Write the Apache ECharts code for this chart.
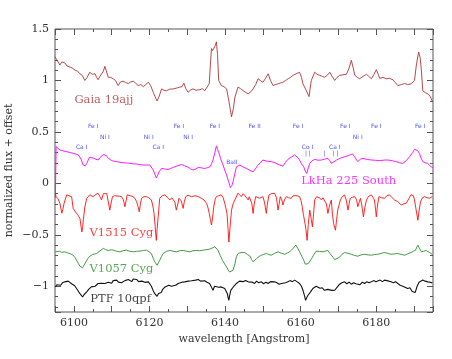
<!DOCTYPE html>
<html><head><meta charset="utf-8">
<script src="https://cdn.jsdelivr.net/npm/echarts@6/dist/echarts.min.js"></script>
<style>html,body{margin:0;padding:0;background:#fff}#c{width:452px;height:359px}</style>
</head><body><div id="c"></div>
<script>
// ---- data (wavelength [A], normalized flux + offset) ----
const gaia = [[6095.0,1.23],[6095.5,1.2],[6096.3,1.15],[6096.8,1.18],[6097.6,1.17],[6098.2,1.14],[6099.0,1.13],[6099.6,1.12],[6100.3,1.10],[6101.0,1.09],[6101.6,1.065],[6102.2,1.05],[6102.9,1.0],[6103.5,1.03],[6104.2,1.08],[6104.8,1.06],[6105.6,1.065],[6106.0,1.03],[6106.4,1.007],[6106.9,1.04],[6107.3,1.04],[6107.8,1.09],[6108.2,1.137],[6108.6,1.12],[6109.1,1.03],[6109.7,1.03],[6110.4,1.017],[6111.0,1.0],[6111.7,0.95],[6112.3,0.985],[6113.0,0.993],[6113.7,0.98],[6114.4,0.97],[6115.0,0.985],[6115.7,0.993],[6116.3,0.975],[6117.0,0.95],[6117.7,0.96],[6118.4,0.94],[6119.0,0.96],[6119.7,0.983],[6120.3,0.95],[6121.0,0.885],[6121.5,0.84],[6122.0,0.80],[6122.5,0.84],[6123.2,0.918],[6123.8,0.905],[6124.5,0.90],[6125.3,0.915],[6126.3,0.918],[6127.1,0.925],[6128.0,0.935],[6128.6,0.94],[6129.1,0.973],[6129.6,0.92],[6130.2,0.885],[6130.8,0.905],[6131.5,0.918],[6132.3,0.905],[6133.3,0.91],[6134.0,0.92],[6134.6,0.9],[6135.1,0.9],[6135.8,0.967],[6136.1,1.15],[6136.4,1.31],[6136.7,1.29],[6137.0,1.28],[6137.4,1.34],[6137.7,1.375],[6138.0,1.25],[6138.3,1.0],[6139.0,0.95],[6139.7,0.94],[6140.4,0.918],[6141.0,0.8],[6141.7,0.647],[6142.2,0.73],[6142.6,0.837],[6143.4,0.935],[6144.1,0.92],[6144.8,0.90],[6145.4,0.885],[6146.1,0.87],[6146.8,0.89],[6147.4,0.918],[6148.1,0.96],[6148.7,1.017],[6149.3,1.0],[6150.0,0.983],[6150.7,1.02],[6151.4,1.065],[6152.0,1.0],[6152.7,0.95],[6153.3,0.96],[6154.0,0.967],[6154.6,0.975],[6155.3,0.983],[6156.0,1.0],[6156.7,1.017],[6157.3,1.03],[6158.0,1.05],[6158.8,1.065],[6159.7,1.08],[6160.2,1.03],[6160.6,0.967],[6161.5,0.90],[6162.2,0.843],[6162.8,1.0],[6163.7,1.08],[6164.3,1.06],[6165.0,1.05],[6165.7,1.04],[6166.3,1.03],[6167.0,1.05],[6167.7,1.08],[6168.3,1.04],[6169.0,1.0],[6169.6,1.03],[6170.3,1.05],[6171.2,1.055],[6172.1,1.06],[6172.8,1.12],[6173.4,1.196],[6173.9,1.12],[6174.3,1.05],[6175.0,1.03],[6175.6,1.017],[6176.5,1.04],[6177.4,1.06],[6178.0,1.04],[6178.7,1.017],[6179.4,1.06],[6180.0,1.105],[6180.5,1.06],[6180.9,1.02],[6181.8,1.03],[6182.6,1.017],[6183.5,1.02],[6184.4,1.007],[6185.0,0.98],[6185.7,0.95],[6186.6,0.96],[6187.5,0.97],[6188.3,0.96],[6189.2,0.967],[6189.7,0.95],[6190.1,1.0],[6190.6,1.15],[6191.2,1.277],[6191.6,1.22],[6191.9,1.11],[6192.3,0.9],[6193.0,0.88],[6193.6,0.87],[6194.2,0.85],[6194.8,0.80]];

const lkha = [[6095.1,-0.14],[6095.3,0.357],[6096.3,0.325],[6097.2,0.315],[6098.1,0.308],[6099.0,0.30],[6099.8,0.292],[6100.5,0.285],[6101.2,0.276],[6101.6,0.26],[6102.0,0.227],[6102.4,0.18],[6102.7,0.161],[6103.0,0.17],[6103.4,0.194],[6104.1,0.253],[6104.6,0.25],[6105.1,0.246],[6105.8,0.235],[6106.4,0.227],[6106.9,0.25],[6107.3,0.266],[6107.8,0.28],[6108.2,0.292],[6108.6,0.27],[6109.1,0.243],[6109.5,0.235],[6110.0,0.221],[6110.6,0.215],[6111.3,0.211],[6112.2,0.205],[6113.0,0.201],[6113.9,0.198],[6114.8,0.194],[6115.7,0.19],[6116.6,0.188],[6117.5,0.182],[6118.3,0.178],[6119.2,0.178],[6120.1,0.178],[6120.6,0.16],[6121.0,0.129],[6121.4,0.09],[6121.8,0.053],[6122.2,0.08],[6122.5,0.111],[6123.2,0.145],[6124.0,0.14],[6124.9,0.135],[6125.6,0.145],[6126.3,0.155],[6127.4,0.17],[6128.5,0.184],[6129.3,0.17],[6130.2,0.158],[6130.9,0.14],[6131.5,0.129],[6132.2,0.14],[6132.9,0.155],[6133.8,0.15],[6134.6,0.145],[6135.3,0.152],[6136.0,0.161],[6136.4,0.19],[6136.8,0.227],[6137.3,0.3],[6137.7,0.364],[6138.0,0.33],[6138.4,0.292],[6138.8,0.24],[6139.3,0.194],[6139.8,0.14],[6140.4,0.08],[6140.9,0.02],[6141.4,-0.041],[6141.8,-0.02],[6142.1,0.014],[6142.6,0.1],[6143.0,0.161],[6143.9,0.178],[6144.7,0.16],[6145.6,0.145],[6146.5,0.128],[6147.4,0.112],[6148.0,0.14],[6148.7,0.178],[6149.3,0.2],[6150.0,0.227],[6150.6,0.22],[6151.3,0.215],[6152.2,0.211],[6152.9,0.205],[6153.5,0.194],[6154.4,0.18],[6155.3,0.168],[6155.9,0.2],[6156.6,0.233],[6157.5,0.255],[6158.4,0.276],[6159.1,0.255],[6159.7,0.227],[6160.2,0.19],[6160.8,0.161],[6161.2,0.12],[6161.6,0.096],[6162.0,0.15],[6162.4,0.194],[6163.0,0.22],[6163.7,0.233],[6164.6,0.225],[6165.5,0.227],[6166.3,0.235],[6167.2,0.243],[6167.7,0.22],[6168.1,0.194],[6168.8,0.21],[6169.5,0.227],[6170.5,0.245],[6171.6,0.259],[6172.6,0.27],[6173.7,0.286],[6174.4,0.25],[6175.1,0.211],[6175.8,0.235],[6176.5,0.243],[6177.6,0.232],[6178.7,0.227],[6179.8,0.224],[6180.9,0.221],[6182.0,0.226],[6183.1,0.227],[6184.2,0.22],[6185.3,0.211],[6186.2,0.2],[6187.0,0.194],[6187.9,0.22],[6188.8,0.259],[6189.6,0.3],[6190.1,0.33],[6190.4,0.341],[6190.9,0.32],[6191.4,0.292],[6191.9,0.24],[6192.3,0.211],[6193.0,0.2],[6193.6,0.194],[6194.5,0.161],[6195.0,0.15]];

const v1515 = [[6095.1,-0.1],[6095.3,-0.129],[6095.8,-0.15],[6096.3,-0.194],[6096.8,-0.29],[6097.1,-0.25],[6097.4,-0.194],[6098.1,-0.112],[6098.7,-0.12],[6099.4,-0.129],[6099.8,-0.243],[6100.2,-0.26],[6100.7,-0.292],[6101.2,-0.315],[6101.6,-0.341],[6101.9,-0.42],[6102.1,-0.472],[6102.3,-0.43],[6102.5,-0.355],[6102.9,-0.227],[6103.4,-0.145],[6104.2,-0.112],[6104.7,-0.13],[6105.1,-0.129],[6105.7,-0.11],[6106.4,-0.096],[6106.9,-0.13],[6107.3,-0.161],[6107.8,-0.1],[6108.2,-0.09],[6108.7,-0.1],[6109.1,-0.096],[6109.5,-0.26],[6109.8,-0.2],[6110.2,-0.129],[6110.8,-0.12],[6111.3,-0.112],[6112.0,-0.125],[6112.6,-0.129],[6113.1,-0.16],[6113.5,-0.227],[6113.8,-0.17],[6114.1,-0.112],[6114.9,-0.12],[6115.7,-0.129],[6116.2,-0.15],[6116.6,-0.178],[6117.0,-0.23],[6117.3,-0.276],[6117.6,-0.2],[6117.9,-0.145],[6118.5,-0.13],[6119.2,-0.129],[6119.8,-0.14],[6120.5,-0.161],[6120.9,-0.22],[6121.2,-0.292],[6121.5,-0.42],[6121.8,-0.554],[6122.0,-0.45],[6122.3,-0.325],[6122.7,-0.145],[6123.4,-0.12],[6124.1,-0.112],[6124.8,-0.14],[6125.4,-0.161],[6125.9,-0.14],[6126.3,-0.129],[6126.7,-0.18],[6127.1,-0.26],[6127.5,-0.2],[6127.8,-0.145],[6128.4,-0.17],[6128.9,-0.243],[6129.2,-0.18],[6129.6,-0.129],[6130.2,-0.115],[6130.7,-0.112],[6131.1,-0.13],[6131.5,-0.145],[6132.0,-0.12],[6132.4,-0.112],[6133.0,-0.13],[6133.7,-0.145],[6134.4,-0.16],[6135.1,-0.194],[6135.5,-0.24],[6135.8,-0.292],[6136.1,-0.35],[6136.4,-0.405],[6136.7,-0.33],[6137.0,-0.227],[6137.4,-0.15],[6137.7,-0.129],[6138.3,-0.12],[6139.0,-0.112],[6139.5,-0.14],[6139.9,-0.194],[6140.2,-0.24],[6140.5,-0.292],[6140.8,-0.45],[6141.0,-0.57],[6141.3,-0.43],[6141.7,-0.26],[6142.1,-0.2],[6142.6,-0.161],[6143.4,-0.096],[6143.8,-0.11],[6144.3,-0.129],[6144.8,-0.1],[6145.2,-0.096],[6145.7,-0.14],[6146.1,-0.161],[6146.4,-0.13],[6146.7,-0.112],[6147.1,-0.2],[6147.4,-0.292],[6147.7,-0.2],[6148.1,-0.129],[6148.6,-0.13],[6149.2,-0.145],[6149.6,-0.135],[6150.0,-0.129],[6150.4,-0.18],[6150.9,-0.292],[6151.2,-0.2],[6151.6,-0.112],[6152.3,-0.1],[6153.1,-0.096],[6153.6,-0.14],[6154.0,-0.26],[6154.3,-0.2],[6154.6,-0.129],[6155.0,-0.16],[6155.3,-0.21],[6155.7,-0.16],[6156.2,-0.129],[6156.8,-0.14],[6157.5,-0.145],[6158.0,-0.12],[6158.4,-0.112],[6159.0,-0.12],[6159.7,-0.129],[6160.1,-0.17],[6160.4,-0.227],[6160.7,-0.3],[6161.0,-0.358],[6161.4,-0.45],[6161.7,-0.554],[6162.0,-0.4],[6162.4,-0.26],[6162.8,-0.35],[6163.1,-0.423],[6163.4,-0.3],[6163.7,-0.161],[6164.2,-0.13],[6164.6,-0.129],[6165.0,-0.14],[6165.5,-0.161],[6165.9,-0.14],[6166.3,-0.129],[6166.8,-0.2],[6167.2,-0.292],[6167.6,-0.22],[6168.1,-0.161],[6168.4,-0.3],[6168.7,-0.39],[6169.2,-0.455],[6169.5,-0.35],[6169.8,-0.26],[6170.5,-0.161],[6171.0,-0.13],[6171.6,-0.112],[6172.1,-0.17],[6172.5,-0.26],[6172.8,-0.2],[6173.1,-0.145],[6173.7,-0.135],[6174.3,-0.129],[6174.8,-0.16],[6175.1,-0.227],[6175.5,-0.18],[6175.8,-0.145],[6176.2,-0.22],[6176.6,-0.325],[6177.0,-0.23],[6177.4,-0.161],[6178.0,-0.125],[6178.7,-0.112],[6179.2,-0.14],[6179.5,-0.161],[6179.8,-0.25],[6180.0,-0.325],[6180.3,-0.22],[6180.7,-0.129],[6181.4,-0.14],[6182.2,-0.145],[6182.8,-0.12],[6183.5,-0.112],[6184.2,-0.14],[6184.8,-0.161],[6185.3,-0.17],[6185.7,-0.178],[6186.2,-0.19],[6186.6,-0.21],[6187.2,-0.2],[6187.9,-0.194],[6188.6,-0.15],[6189.2,-0.11],[6189.5,-0.096],[6189.8,-0.12],[6190.1,-0.161],[6190.5,-0.25],[6191.0,-0.358],[6191.3,-0.27],[6191.7,-0.178],[6192.2,-0.14],[6192.8,-0.129],[6193.5,-0.14],[6194.1,-0.145],[6194.8,-0.129]];

const v1057 = [[6095.1,-0.665],[6095.6,-0.675],[6096.2,-0.66],[6096.8,-0.67],[6097.6,-0.665],[6098.3,-0.675],[6099.0,-0.682],[6099.5,-0.69],[6099.8,-0.698],[6100.3,-0.72],[6100.7,-0.747],[6101.2,-0.78],[6101.6,-0.806],[6102.0,-0.815],[6102.3,-0.819],[6102.7,-0.8],[6103.2,-0.762],[6103.7,-0.73],[6104.2,-0.708],[6105.0,-0.69],[6106.0,-0.682],[6106.9,-0.655],[6107.8,-0.632],[6108.4,-0.645],[6109.1,-0.652],[6109.8,-0.645],[6110.4,-0.649],[6111.3,-0.66],[6112.2,-0.665],[6113.0,-0.655],[6113.9,-0.649],[6114.8,-0.66],[6115.7,-0.665],[6116.6,-0.66],[6117.5,-0.658],[6118.4,-0.652],[6119.2,-0.649],[6119.9,-0.665],[6120.5,-0.682],[6121.0,-0.73],[6121.4,-0.763],[6122.0,-0.796],[6122.4,-0.77],[6122.7,-0.747],[6123.2,-0.71],[6123.6,-0.682],[6124.5,-0.66],[6125.4,-0.652],[6126.3,-0.66],[6127.1,-0.665],[6128.0,-0.655],[6128.9,-0.652],[6129.8,-0.66],[6130.7,-0.665],[6131.5,-0.655],[6132.4,-0.652],[6133.3,-0.655],[6134.2,-0.649],[6135.0,-0.645],[6135.9,-0.639],[6136.6,-0.628],[6137.3,-0.616],[6137.7,-0.63],[6138.1,-0.649],[6138.7,-0.7],[6139.3,-0.747],[6139.9,-0.785],[6140.4,-0.812],[6140.8,-0.84],[6141.2,-0.861],[6141.7,-0.85],[6142.1,-0.845],[6142.6,-0.78],[6143.0,-0.71],[6143.5,-0.68],[6143.9,-0.665],[6144.5,-0.67],[6145.2,-0.672],[6145.9,-0.69],[6146.6,-0.708],[6147.0,-0.74],[6147.4,-0.762],[6147.9,-0.745],[6148.3,-0.732],[6149.0,-0.71],[6149.6,-0.698],[6150.2,-0.69],[6150.9,-0.682],[6151.5,-0.69],[6152.2,-0.698],[6153.1,-0.68],[6154.0,-0.665],[6154.9,-0.68],[6155.8,-0.689],[6156.5,-0.675],[6157.1,-0.665],[6157.6,-0.65],[6158.0,-0.632],[6158.4,-0.614],[6158.7,-0.6],[6159.2,-0.63],[6159.7,-0.665],[6160.3,-0.71],[6160.8,-0.747],[6161.2,-0.785],[6161.5,-0.796],[6162.0,-0.78],[6162.4,-0.762],[6162.9,-0.73],[6163.4,-0.698],[6164.1,-0.658],[6165.0,-0.662],[6165.9,-0.665],[6166.5,-0.658],[6167.2,-0.652],[6167.7,-0.68],[6168.1,-0.698],[6168.6,-0.72],[6169.0,-0.74],[6169.6,-0.73],[6170.3,-0.717],[6170.9,-0.69],[6171.6,-0.672],[6172.5,-0.68],[6173.4,-0.689],[6174.2,-0.7],[6175.1,-0.708],[6176.0,-0.695],[6176.9,-0.689],[6177.8,-0.695],[6178.7,-0.698],[6179.5,-0.692],[6180.4,-0.689],[6181.3,-0.68],[6182.2,-0.672],[6183.0,-0.68],[6183.9,-0.689],[6184.8,-0.685],[6185.7,-0.682],[6186.6,-0.69],[6187.5,-0.698],[6188.3,-0.685],[6189.2,-0.672],[6189.8,-0.66],[6190.4,-0.649],[6190.7,-0.62],[6191.0,-0.6],[6191.4,-0.63],[6191.9,-0.665],[6192.5,-0.66],[6193.2,-0.652],[6193.7,-0.665],[6194.1,-0.672],[6194.8,-0.689]];

const ptf = [[6095.1,-1.006],[6095.5,-0.985],[6096.0,-0.97],[6096.5,-0.99],[6097.0,-0.965],[6097.6,-0.957],[6098.1,-0.975],[6098.5,-0.95],[6099.0,-0.957],[6099.4,-0.975],[6099.8,-0.98],[6100.2,-0.995],[6100.7,-1.022],[6101.1,-1.04],[6101.6,-1.072],[6102.0,-1.09],[6102.3,-1.104],[6102.7,-1.08],[6103.0,-1.09],[6103.4,-1.055],[6103.9,-1.03],[6104.2,-1.04],[6104.6,-1.006],[6105.1,-0.99],[6105.6,-1.0],[6106.0,-0.985],[6106.4,-0.973],[6106.9,-0.99],[6107.3,-0.97],[6107.8,-0.985],[6108.2,-0.973],[6108.7,-0.955],[6109.1,-0.96],[6109.5,-0.95],[6110.0,-0.97],[6110.4,-0.945],[6110.9,-0.955],[6111.3,-0.94],[6111.8,-0.96],[6112.2,-0.95],[6112.6,-0.965],[6113.0,-0.957],[6113.5,-0.945],[6114.0,-0.96],[6114.4,-0.935],[6114.8,-0.94],[6115.3,-0.955],[6115.7,-0.93],[6116.2,-0.945],[6116.6,-0.934],[6117.1,-0.955],[6117.5,-0.94],[6118.0,-0.95],[6118.3,-0.947],[6118.8,-0.962],[6119.2,-0.95],[6119.7,-0.957],[6120.1,-0.975],[6120.5,-1.0],[6121.0,-1.045],[6121.4,-1.072],[6121.7,-1.085],[6122.0,-1.098],[6122.4,-1.07],[6122.7,-1.055],[6123.1,-1.06],[6123.5,-1.03],[6124.1,-1.006],[6124.6,-1.015],[6125.1,-0.99],[6125.8,-1.0],[6126.3,-0.985],[6126.9,-0.99],[6127.6,-0.973],[6128.1,-0.98],[6128.6,-0.96],[6129.3,-0.957],[6129.8,-0.97],[6130.3,-0.95],[6131.1,-0.947],[6131.6,-0.96],[6132.2,-0.94],[6132.9,-0.934],[6133.5,-0.95],[6134.0,-0.94],[6134.6,-0.947],[6135.2,-0.96],[6135.9,-0.973],[6136.4,-1.01],[6136.8,-1.039],[6137.2,-1.0],[6137.7,-0.99],[6138.3,-1.01],[6139.0,-1.006],[6139.5,-1.025],[6139.9,-1.022],[6140.3,-1.05],[6140.6,-1.072],[6140.8,-1.11],[6141.0,-1.137],[6141.2,-1.09],[6141.5,-1.04],[6141.7,-1.022],[6142.3,-1.0],[6143.0,-0.973],[6143.5,-0.985],[6143.8,-0.95],[6144.3,-0.94],[6144.8,-0.955],[6145.4,-0.945],[6146.1,-0.957],[6146.6,-0.97],[6147.2,-0.96],[6147.8,-0.973],[6148.3,-0.95],[6148.9,-0.965],[6149.6,-0.957],[6150.2,-0.975],[6150.8,-0.96],[6151.4,-0.973],[6152.0,-0.955],[6152.5,-0.97],[6153.1,-0.957],[6153.7,-0.965],[6154.3,-0.98],[6154.9,-0.973],[6155.4,-0.955],[6156.0,-0.965],[6156.6,-0.957],[6157.2,-0.945],[6157.8,-0.955],[6158.4,-0.94],[6159.0,-0.955],[6159.7,-0.973],[6160.2,-1.0],[6160.6,-1.039],[6161.0,-1.09],[6161.3,-1.137],[6161.6,-1.11],[6161.9,-1.09],[6162.2,-1.072],[6162.7,-1.05],[6163.2,-1.022],[6163.6,-1.03],[6164.1,-1.0],[6164.6,-1.006],[6165.1,-1.02],[6165.7,-1.015],[6166.3,-1.039],[6166.8,-1.02],[6167.2,-1.03],[6167.7,-1.022],[6168.2,-1.04],[6168.6,-1.03],[6169.0,-1.039],[6169.6,-1.01],[6170.3,-0.98],[6170.9,-0.965],[6171.6,-0.957],[6172.2,-0.975],[6172.8,-0.96],[6173.4,-0.98],[6174.0,-0.965],[6174.6,-0.975],[6175.1,-0.967],[6175.7,-0.985],[6176.3,-0.96],[6176.9,-0.973],[6177.5,-0.955],[6178.1,-0.965],[6178.7,-0.957],[6179.3,-0.945],[6179.9,-0.955],[6180.4,-0.95],[6181.0,-0.94],[6181.6,-0.955],[6182.2,-0.94],[6182.8,-0.945],[6183.3,-0.96],[6183.9,-0.957],[6184.5,-0.965],[6185.1,-0.955],[6185.7,-0.973],[6186.3,-0.99],[6187.0,-1.0],[6187.6,-1.01],[6188.3,-1.022],[6188.9,-1.015],[6189.5,-1.05],[6190.0,-1.045],[6190.3,-1.06],[6190.8,-1.0],[6191.3,-0.96],[6191.8,-0.95],[6192.3,-0.94],[6192.9,-0.95],[6193.6,-0.957],[6194.2,-0.96],[6194.8,-0.967]];

// spectral line identifications: [text, wavelength, level]
const lineIds = [['Fe I',6105.1,0.558],['Ni I',6108.2,0.448],['Ca I',6102.05,0.35],['Ni I',6119.8,0.448],['Ca I',6122.3,0.35],['Fe I',6127.8,0.558],['Ni I',6130.2,0.448],['Fe I',6137.3,0.558],['BaII',6141.8,0.2],['Fe II',6147.8,0.558],['Fe I',6159.3,0.558],['Co I',6161.8,0.35],['Ca I',6169.0,0.35],['Fe I',6171.8,0.558],['Ni I',6175.1,0.448],['Fe I',6180.0,0.558],['Fe I',6191.6,0.558],['| |',6161.9,0.288],['|',6166.3,0.288],['| |',6169.2,0.288]];

// object names: [text, wavelength, level]
const objNames = [['Gaia 19ajj',6100.0,0.81],['LkHa 225 South',6160.0,0.025],['V1515 Cyg',6104.0,-0.487],['V1057 Cyg',6104.0,-0.837],['PTF 10qpf',6104.2,-1.127]];
const objColors = ['#b03434','#ff00ff','#ff1010','#2e8f2e','#111111'];

const xMin = 6095, xMax = 6195, yMin = -1.25, yMax = 1.5;
const serif = 'DejaVu Serif';
const frame = '#555';

function yLab(v){
  if (Math.abs(v*2 - Math.round(v*2)) > 1e-6) return '';
  const s = String(Math.abs(Math.round(v*10)/10));
  return v < 0 ? '\u2212' + s : s;
}
function xLab(v){ return (Math.round(v) % 20 === 0) ? String(Math.round(v)) : ''; }

const chart = echarts.init(document.getElementById('c'), null, {renderer:'canvas'});
const baseX = {type:'value', min:xMin, max:xMax, splitLine:{show:false}, axisLine:{show:false, onZero:false}};
const baseY = {type:'value', min:yMin, max:yMax, splitLine:{show:false}, axisLine:{show:false, onZero:false}};

const series = [];
[gaia, lkha, v1515, v1057, ptf].forEach((d,i)=>{
  series.push({type:'line', data:d, showSymbol:false, symbol:'none', xAxisIndex:0, yAxisIndex:0,
    lineStyle:{color:objColors[i], width: i===4 ? 1.1 : 0.9}, animation:false, z:2});
});
series.push({type:'scatter', xAxisIndex:0, yAxisIndex:0, symbolSize:1, itemStyle:{color:'rgba(0,0,0,0)'},
  data: lineIds.map(a=>({value:[a[1],a[2]], name:a[0]})), animation:false, silent:true, z:5,
  label:{show:true, position:'inside', formatter:p=>p.name, color:'#2020ff', fontSize:6, fontFamily:'DejaVu Sans'}});
series.push({type:'scatter', xAxisIndex:0, yAxisIndex:0, symbolSize:1, itemStyle:{color:'rgba(0,0,0,0)'},
  data: objNames.map((a,i)=>({value:[a[1],a[2]], name:a[0], label:{color:objColors[i]}})), animation:false, silent:true, z:5,
  label:{show:true, position:'right', distance:0, align:'left', verticalAlign:'middle', formatter:p=>p.name, fontSize:11.5, fontFamily:serif}});

const tickStyle = {color:frame, width:1};
chart.setOption({
  backgroundColor:'#fff',
  animation:false,
  grid:{left:55, right:19, top:29, bottom:47, containLabel:false, outerBoundsMode:'none', show:true, borderColor:frame, borderWidth:1, backgroundColor:'transparent'},
  xAxis:[
    Object.assign({}, baseX, {position:'bottom', splitNumber:10, axisTick:{inside:true, length:6, lineStyle:tickStyle},
      axisLabel:{formatter:xLab, color:'#333', fontFamily:serif, fontSize:11, margin:6, showMinLabel:true, showMaxLabel:true, hideOverlap:false},
      name:'wavelength [Angstrom]', nameLocation:'middle', nameGap:17, nameTextStyle:{color:'#333', fontFamily:serif, fontSize:11}}),
    Object.assign({}, baseX, {position:'bottom', interval:5, axisTick:{inside:true, length:3, lineStyle:tickStyle}, axisLabel:{show:false}}),
    Object.assign({}, baseX, {position:'top', splitNumber:10, axisTick:{inside:true, length:6, lineStyle:tickStyle}, axisLabel:{show:false}}),
    Object.assign({}, baseX, {position:'top', interval:5, axisTick:{inside:true, length:3, lineStyle:tickStyle}, axisLabel:{show:false}})
  ],
  yAxis:[
    Object.assign({}, baseY, {position:'left', splitNumber:5, axisTick:{inside:true, length:6, lineStyle:tickStyle},
      axisLabel:{formatter:yLab, color:'#333', fontFamily:serif, fontSize:11, margin:6, showMinLabel:true, showMaxLabel:true, hideOverlap:false},
      name:'normalized flux + offset', nameLocation:'middle', nameGap:40, nameMoveOverlap:false, nameTextStyle:{color:'#333', fontFamily:serif, fontSize:11}}),
    Object.assign({}, baseY, {position:'left', splitNumber:27, axisTick:{inside:true, length:3, lineStyle:tickStyle}, axisLabel:{show:false}}),
    Object.assign({}, baseY, {position:'right', splitNumber:5, axisTick:{inside:true, length:6, lineStyle:tickStyle}, axisLabel:{show:false}}),
    Object.assign({}, baseY, {position:'right', splitNumber:27, axisTick:{inside:true, length:3, lineStyle:tickStyle}, axisLabel:{show:false}})
  ],
  series: series
});
</script></body></html>
